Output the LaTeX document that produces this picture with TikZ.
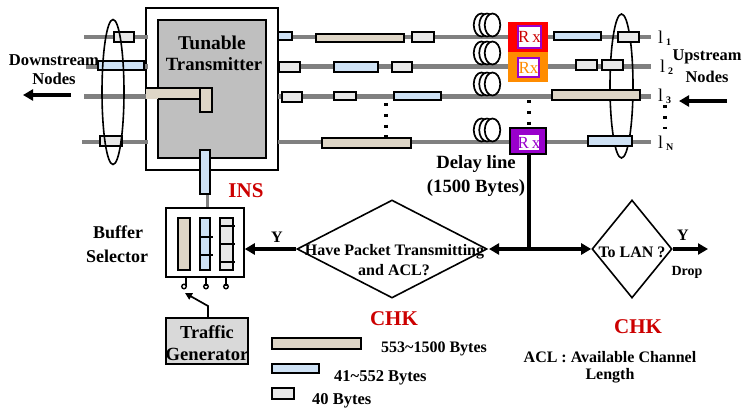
\documentclass[tikz,border=0pt]{standalone}
\usepackage{fontspec}
\setmainfont{Liberation Serif}
\usetikzlibrary{shapes.geometric,arrows.meta}
\definecolor{tanp}{HTML}{DED6C7}
\definecolor{bluep}{HTML}{CFE2F5}
\definecolor{smallp}{HTML}{E8E8E8}
\definecolor{fibre}{HTML}{808080}
\definecolor{chk}{HTML}{CC0000}
\definecolor{rxpurple}{HTML}{9900CC}
\definecolor{rxorange}{HTML}{FF8C00}
\newcommand{\bt}[1]{\fontsize{#1}{#1}\selectfont\bfseries}
\newcommand{\boxn}[6]{\node[#2,minimum width={(#5-#3)*1pt},minimum height={(#6-#4)*1pt}] (#1) at ({(#3+#5)/2},{(#4+#6)/2}) {};}
\newcommand{\lam}[4]{\node[anchor=west,inner sep=0pt] (#1) at (#2,#3) {\fontsize{18}{18}\selectfont l\hspace{3pt}\raisebox{-2pt}{\bt{10}#4}};}
\tikzset{
  pk/.style={draw=black,line width=1.7pt},
  tanpk/.style={pk,fill=tanp},
  bluepk/.style={pk,fill=bluep},
  smallpk/.style={pk,fill=smallp},
  fib/.style={draw=fibre,line width=3.6pt},
  fibt/.style={draw=fibre,line width=5pt},
  coilring/.style={draw=black,line width=1.7pt,fill=white,ellipse,inner sep=0pt,minimum width=15.5pt,minimum height=23pt},
  ring/.style={draw=black,line width=1.6pt,ellipse,inner sep=0pt},
  rect/.style={draw=black,line width=1.5pt,rectangle,inner sep=0pt},
  dia/.style={draw=black,line width=1.6pt,diamond,inner sep=0pt,fill=none},
  lbl/.style={inner sep=0pt,align=center},
  flow/.style={line width=3.1pt,-{Triangle[length=10pt,width=11pt]}},
  dotsv/.style={line width=3.6pt,dash pattern=on 3pt off 7.8pt},
  rxt/.style={inner sep=0pt,font=\fontsize{17}{17}\selectfont},
}
\begin{document}
\begin{tikzpicture}[x=1pt,y=-1pt]
\useasboundingbox (0,0) rectangle (742,415);
% transmitter
\boxn{txo}{rect,fill=white}{146}{8}{278}{170}
\boxn{txi}{rect,fill=black!25}{158}{20}{266}{158}
% fibres
\foreach \n/\y/\xl/\st in {a/37/84/fib,b/66/86/fibt,c/96/84/fibt,d/142/82/fib}{
  \coordinate (l\n) at (\xl,\y);
  \coordinate (m\n) at (148,\y);
  \coordinate (r\n) at (278,\y);
  \coordinate (e\n) at (651,\y);
  \draw[\st] (l\n) -- (m\n);
  \draw[\st] (r\n) -- (e\n);
}
% right ring behind packets
\node[ring,minimum width=23pt,minimum height=144pt] (rr) at (621.5,86) {};
% coils
\foreach \n/\y in {a/25,b/53,c/84,d/130}{
  \foreach \i/\x in {1/481.5,2/487,3/492.5}{
    \node[coilring] (coil\n\i) at (\x,\y) {};
  }
}
% Rx units
\boxn{rxa}{rect,draw=red,fill=red}{509}{23}{547}{51}
\boxn{rxai}{rect,draw=rxpurple,fill=white,line width=1.8pt}{518}{26}{541}{48}
\node[rxt,text=chk] at (rxai) {R\,x};
\boxn{rxb}{rect,draw=rxorange,fill=rxorange}{509}{53}{547}{81}
\boxn{rxbi}{rect,draw=rxpurple,fill=white,line width=1.8pt}{518}{58}{539}{77}
\node[rxt,text=rxorange] at (rxbi) {Rx};
\boxn{rxd}{rect,fill=rxpurple,line width=2pt}{510}{128}{546}{154}
\boxn{rxdi}{rectangle,inner sep=0pt,fill=white}{519}{135}{539}{150}
\node[rxt,text=rxpurple] at (rxdi) {R\,x};
% packets on fibres
\foreach \st/\xa/\ya/\xb/\yb in {
  smallpk/114/32/134/42, bluepk/98/61/144/70, smallpk/100/136/122/146,
  bluepk/278/32/292/40, tanpk/316/34/404/42, smallpk/412/32/434/42,
  bluepk/554/32/601/40, smallpk/618/32/639/42,
  smallpk/279/62/300/72, bluepk/334/62/378/72, smallpk/392/62/412/72,
  smallpk/576/60/597/70, smallpk/602/60/623/70,
  smallpk/282/92/302/102, smallpk/334/92/356/100, bluepk/394/92/441/100,
  tanpk/552/90/640/100,
  tanpk/322/138/411/148, bluepk/588/136/632/146}{
  \draw[\st] (\xa,\ya) rectangle (\xb,\yb);
}
% L-shaped long packet in transmitter
\fill[tanp] (146,88) rectangle (200,99);
\draw[black,line width=1.7pt] (146,88) -- (200,88) (158,99) -- (200,99);
\draw[tanpk] (200,88) rectangle (212,112);
% left ring
\node[ring,minimum width=22pt,minimum height=145pt] (lr) at (113,92) {};
% dots
\coordinate (da) at (386,103); \coordinate (db) at (386,138);
\coordinate (dc) at (529,100); \coordinate (dd) at (529,126);
\coordinate (de) at (665,105); \coordinate (df) at (665,129);
\draw[dotsv] (da) -- (db);
\draw[dotsv] (dc) -- (dd);
\draw[dotsv] (de) -- (df);
% wavelength labels
\lam{la}{658}{38}{1}
\lam{lb}{660}{67}{2}
\lam{lc}{658}{96}{3}
\lam{ld}{658}{143}{N}
% text
\node[lbl,font=\bt{19.5}] (tx1) at (212,43) {Tunable};
\node[lbl,font=\bt{18.7}] (tx2) at (214,64) {Transmitter};
\node[lbl,font=\bt{16.6}] (dn1) at (54,60) {Downstream};
\node[lbl,font=\bt{16.6}] (dn2) at (54,79) {Nodes};
\node[lbl,font=\bt{16.4}] (up1) at (707,57) {Upstream};
\node[lbl,font=\bt{16.4}] (up2) at (707,77) {Nodes};
\coordinate (dsa) at (71,95); \coordinate (dsb) at (23,95);
\draw[flow] (dsa) -- (dsb);
\coordinate (usa) at (727,101); \coordinate (usb) at (679,101);
\draw[flow] (usa) -- (usb);
\node[lbl,font=\bt{21},text=chk] (ins) at (246,191) {INS};
\node[lbl,font=\bt{18.7}] (dl1) at (476,164) {Delay line};
\node[lbl,font=\bt{18.7}] (dl2) at (476,188) {(1500 Bytes)};
% buffer selector
\boxn{buf}{rect,fill=white}{166}{208}{244}{277}
\draw[fibre,line width=3pt] (207,194) -- (buf.north -| 207,0);
\draw[bluepk] (200,150) rectangle (210,194);
\draw[tanpk] (178,218) rectangle (190,270);
\draw[bluepk] (200,218) rectangle (210,270);
\draw[pk] (200,237) -- (213,237) (200,255) -- (213,255);
\draw[smallpk] (220,218) rectangle (233,270);
\draw[pk] (220,226) -- (235,226) (220,244) -- (235,244) (220,262) -- (235,262);
\foreach \n/\x/\cx in {a/186/184,b/206/206,c/226/226}{
  \node[circle,draw=black,line width=1.4pt,fill=white,inner sep=0pt,minimum size=4.5pt] (sw\n) at (\cx,286.5) {};
  \draw[line width=1.6pt] (\x,277) -- (\x,286);
}
\node[lbl,font=\bt{18}] (bs1) at (118,232) {Buffer};
\node[lbl,font=\bt{18}] (bs2) at (117,256) {Selector};
% traffic generator
\boxn{tg}{rect,fill=black!15}{166}{318}{248}{364}
\node[lbl,font=\bt{18.3}] (tg1) at (207,332) {Traffic};
\node[lbl,font=\bt{18.6}] (tg2) at (207,354) {Generator};
\coordinate (tgk) at (208,306);
\draw[line width=1.7pt,-{Triangle[length=7pt,width=7pt]}] (tg.north -| tgk) -- (tgk) -- (185,293);
% decisions
\node[dia,minimum width=190pt,minimum height=98pt] (chk1) at (392,249) {};
\node[dia,minimum width=80pt,minimum height=98pt] (chk2) at (632,249) {};
\node[lbl,font=\bt{16}] (ck1a) at (394.5,252) {Have Packet Transmitting};
\node[lbl,font=\bt{16}] (ck1b) at (394,270) {and ACL?};
\node[lbl,font=\bt{16}] (ck2) at (632,252) {To LAN ?};
\coordinate (jn) at (529,249);
\draw[line width=3.2pt] (rxd.south -| jn) -- (jn);
\draw[flow] (jn) -- (chk2.west);
\draw[flow] (jn) -- (489,249);
\draw[flow] (chk1.west) -- (buf.east |- chk1.west);
\coordinate (out) at (708,249);
\draw[flow] (chk2.east) -- (out);
\node[lbl,font=\bt{16}] (yl) at (277,237) {Y};
\node[lbl,font=\bt{16}] (yr) at (683,235) {Y};
\node[lbl,font=\bt{14}] (drop) at (687,272) {Drop};
\node[lbl,font=\bt{21},text=chk] (chka) at (394,319) {CHK};
\node[lbl,font=\bt{21},text=chk] (chkb) at (638,327) {CHK};
\node[lbl,font=\bt{16}] (acl1) at (610,357) {ACL : Available Channel};
\node[lbl,font=\bt{16}] (acl2) at (610,376) {Length};
% legend
\draw[tanpk] (272,338) rectangle (361,349);
\draw[bluepk] (272,364) rectangle (319,373);
\draw[smallpk] (272,388) rectangle (294,399);
\node[lbl,anchor=west,font=\bt{16}] (lg1) at (381,349) {553\textasciitilde1500 Bytes};
\node[lbl,anchor=west,font=\bt{16.5}] (lg2) at (334,378) {41\textasciitilde552 Bytes};
\node[lbl,anchor=west,font=\bt{16.5}] (lg3) at (312,401) {40 Bytes};
\end{tikzpicture}
\end{document}
